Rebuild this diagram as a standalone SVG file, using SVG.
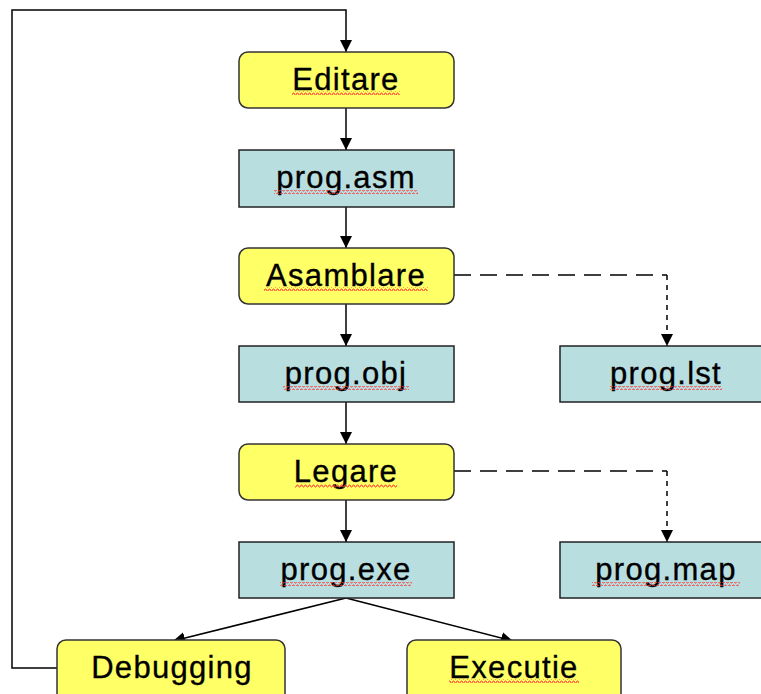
<svg xmlns="http://www.w3.org/2000/svg" width="761" height="694" viewBox="0 0 761 694">
  <style>
    .step { fill: #FFFF66; stroke: #333333; stroke-width: 1.5; }
    .file { fill: #B8DEE0; stroke: #222222; stroke-width: 1.5; }
    .lbl { font-family: "Liberation Sans", Arial, sans-serif; font-size: 31px; letter-spacing: 1.3px; fill: #000000; stroke: #000000; stroke-width: 0.35; text-anchor: middle; }
    .wire { fill: none; stroke: #000000; stroke-width: 1.5; }
    .dash-h { fill: none; stroke: #000000; stroke-width: 1.5; stroke-dasharray: 17 9; }
    .dash-v { fill: none; stroke: #000000; stroke-width: 1.5; stroke-dasharray: 5 5; }
    .squig { fill: url(#wave); }
  </style>
  <defs>
    <marker id="arrow" viewBox="0 0 12 12" refX="12" refY="6" markerWidth="12" markerHeight="12" markerUnits="userSpaceOnUse" orient="auto">
      <path d="M0,0 L12,6 L0,12 Z" fill="#000000"/>
    </marker>
    <pattern id="wave" x="0" y="0" width="4" height="4" patternUnits="userSpaceOnUse">
      <path d="M0,3 L1,1 L2,1 L3,3 L4,3" fill="none" stroke="#FF3333" stroke-width="0.9"/>
    </pattern>
  </defs>

  <!-- connectors -->
  <g id="connectors">
    <path class="wire" d="M57,668 H12 V10 H346 V52" marker-end="url(#arrow)"/>
    <path class="wire" d="M346,108 V150" marker-end="url(#arrow)"/>
    <path class="wire" d="M346,207 V248" marker-end="url(#arrow)"/>
    <path class="wire" d="M346,304 V346" marker-end="url(#arrow)"/>
    <path class="wire" d="M346,402 V444" marker-end="url(#arrow)"/>
    <path class="wire" d="M346,500 V542" marker-end="url(#arrow)"/>
    <path class="wire" d="M346,598 L173,641" marker-end="url(#arrow)"/>
    <path class="wire" d="M346,598 L513,641" marker-end="url(#arrow)"/>
    <path class="dash-h" d="M454,275 H667"/>
    <path class="dash-v" d="M667,275 V346" marker-end="url(#arrow)"/>
    <path class="dash-h" d="M454,471 H667"/>
    <path class="dash-v" d="M667,471 V542" marker-end="url(#arrow)"/>
  </g>

  <g id="editare">
    <rect class="step" x="239" y="52" width="215" height="56" rx="9"/>
    <text class="lbl" x="346" y="90">Editare</text>
    <rect class="squig" x="292" y="91" width="108" height="4"/>
  </g>
  <g id="prog-asm">
    <rect class="file" x="239" y="150" width="215" height="57"/>
    <text class="lbl" x="346" y="188">prog.asm</text>
    <rect class="squig" x="274" y="190" width="144" height="4"/>
  </g>
  <g id="asamblare">
    <rect class="step" x="239" y="248" width="215" height="56" rx="9"/>
    <text class="lbl" x="346" y="286">Asamblare</text>
    <rect class="squig" x="264" y="287" width="164" height="4"/>
  </g>
  <g id="prog-obj">
    <rect class="file" x="239" y="346" width="215" height="56"/>
    <text class="lbl" x="346" y="384">prog.obj</text>
    <rect class="squig" x="283" y="386" width="126" height="4"/>
  </g>
  <g id="prog-lst">
    <rect class="file" x="560" y="346" width="215" height="56"/>
    <text class="lbl" x="666" y="384">prog.lst</text>
    <rect class="squig" x="610" y="386" width="112" height="4"/>
  </g>
  <g id="legare">
    <rect class="step" x="239" y="444" width="215" height="56" rx="9"/>
    <text class="lbl" x="346" y="482">Legare</text>
    <rect class="squig" x="295" y="484" width="102" height="4"/>
  </g>
  <g id="prog-exe">
    <rect class="file" x="239" y="542" width="215" height="56"/>
    <text class="lbl" x="346" y="580">prog.exe</text>
    <rect class="squig" x="280" y="582" width="132" height="4"/>
  </g>
  <g id="prog-map">
    <rect class="file" x="560" y="542" width="215" height="56"/>
    <text class="lbl" x="666" y="580">prog.map</text>
    <rect class="squig" x="592" y="582" width="148" height="4"/>
  </g>
  <g id="debugging">
    <rect class="step" x="57" y="640" width="228" height="70" rx="9"/>
    <text class="lbl" x="172" y="678">Debugging</text>
  </g>
  <g id="executie">
    <rect class="step" x="407" y="640" width="214" height="70" rx="9"/>
    <text class="lbl" x="514" y="678">Executie</text>
    <rect class="squig" x="449" y="679" width="130" height="4"/>
  </g>
</svg>
